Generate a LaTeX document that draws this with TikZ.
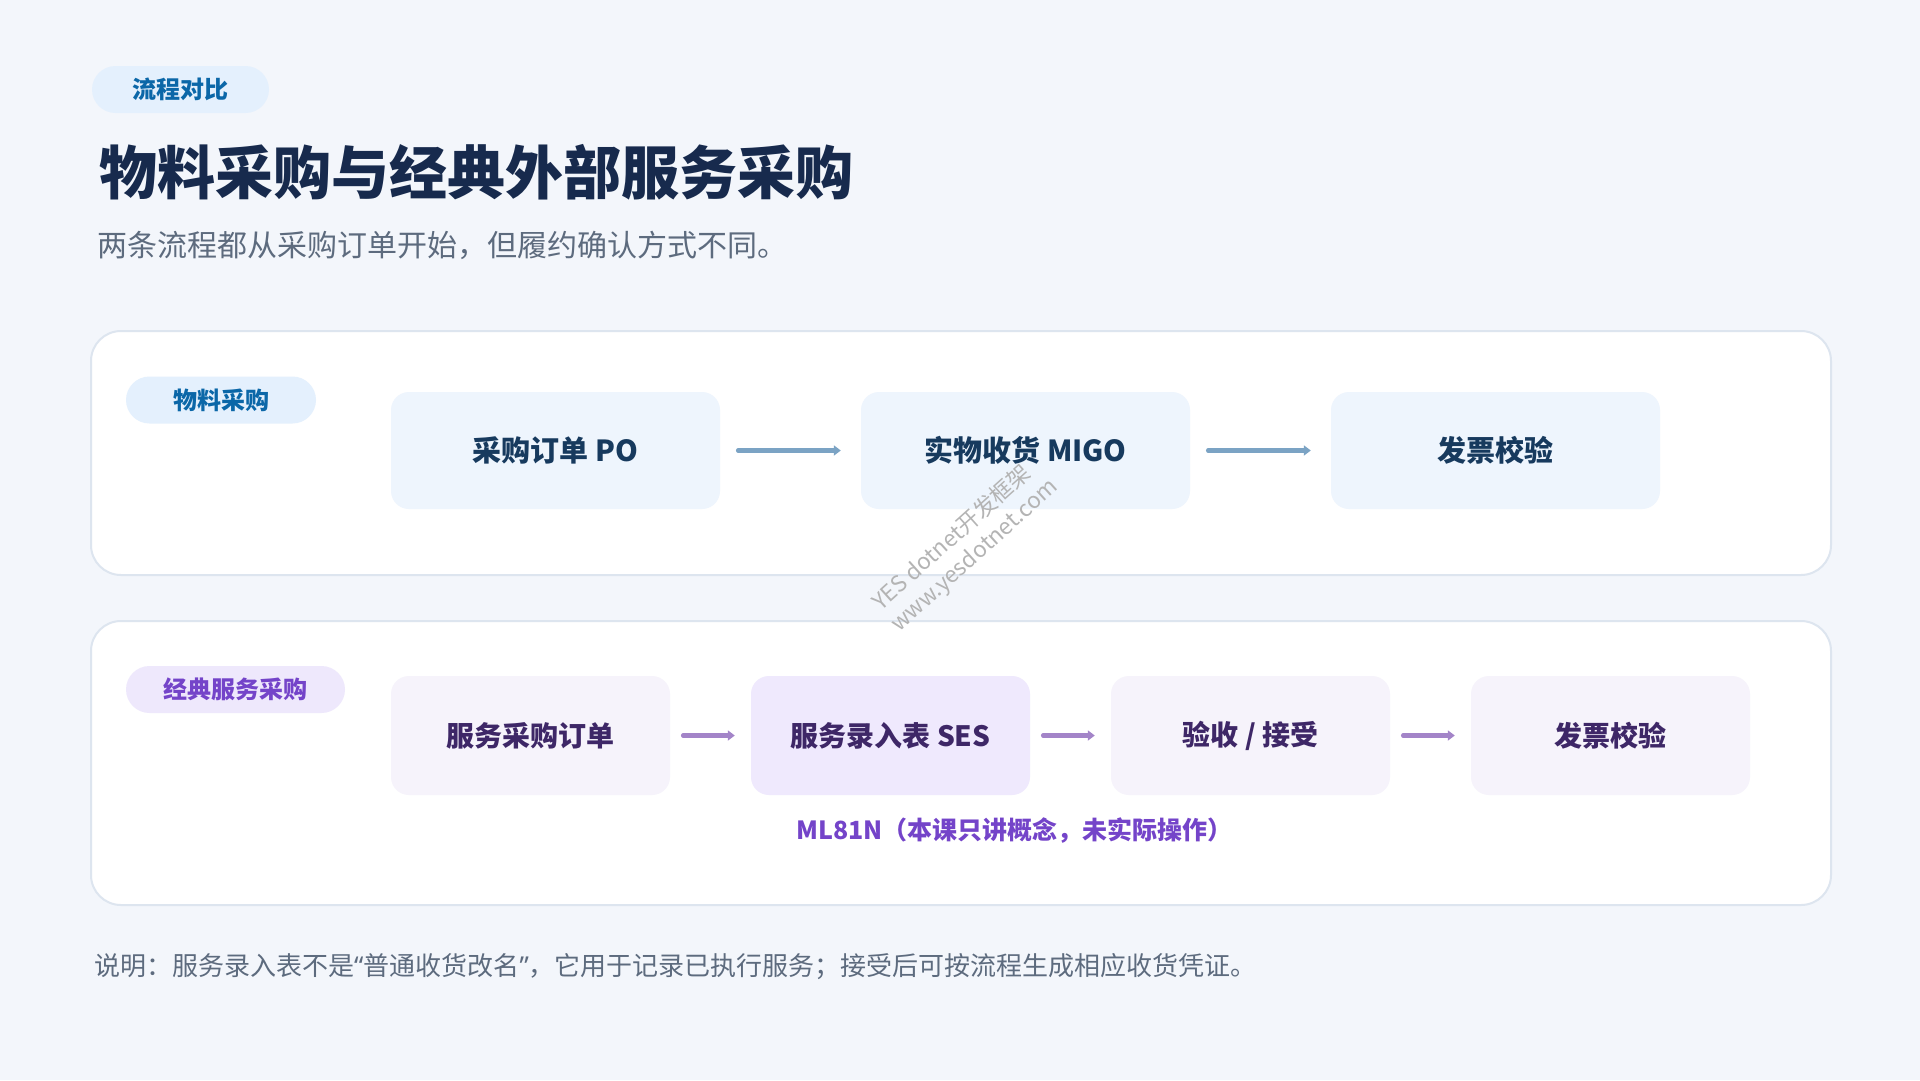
\documentclass[tikz,border=0pt]{standalone}
\usepackage{fontspec}
\setmainfont{Noto Sans CJK SC}
\newfontfamily\latinq{Noto Sans}
\usetikzlibrary{arrows.meta}
\definecolor{bg}{HTML}{F3F6FB}
\definecolor{panelborder}{HTML}{DDE5EF}
\definecolor{tagblue}{HTML}{E4F0FD}
\definecolor{tagbluetext}{HTML}{0B67A8}
\definecolor{tagpurple}{HTML}{EEE8FC}
\definecolor{tagpurpletext}{HTML}{7444C9}
\definecolor{titlecol}{HTML}{172A4D}
\definecolor{subcol}{HTML}{5D6B7E}
\definecolor{boxblue}{HTML}{EEF5FD}
\definecolor{boxbluetext}{HTML}{173A5E}
\definecolor{boxpurple}{HTML}{F6F3FB}
\definecolor{boxpurple2}{HTML}{EFE9FD}
\definecolor{boxpurpletext}{HTML}{3E2767}
\definecolor{arrblue}{HTML}{7BA3C4}
\definecolor{arrpurple}{HTML}{A384C8}
\definecolor{wm}{HTML}{B4B4B4}
\tikzset{
  panel/.style={draw=panelborder, line width=2pt, fill=white, rounded corners=30pt, minimum width=1740pt, inner sep=0pt},
  pill/.style={rounded corners=23.5pt, minimum height=47pt, inner sep=0pt, font=\fontsize{24}{28}\selectfont\bfseries},
  bluebox/.style={fill=boxblue, rounded corners=18pt, minimum width=329pt, minimum height=117pt, inner sep=0pt, text=boxbluetext, font=\fontsize{29}{34}\selectfont\bfseries},
  purplebox/.style={fill=boxpurple, rounded corners=18pt, minimum width=279pt, minimum height=119pt, inner sep=0pt, text=boxpurpletext, font=\fontsize{28}{33}\selectfont\bfseries},
  bluearrow/.style={draw=arrblue, line width=4.5pt, line cap=round, -{Triangle[length=7pt,width=10pt]}, shorten <=18pt, shorten >=20pt},
  purplearrow/.style={draw=arrpurple, line width=4.5pt, line cap=round, -{Triangle[length=7pt,width=10pt]}, shorten <=13pt, shorten >=16pt},
  wmtext/.style={text=wm, rotate=42, font=\fontsize{22.5}{26}\selectfont, inner sep=0pt}
}
\begin{document}
\begin{tikzpicture}[x=1pt,y=-1pt]
\fill[bg] (0,0) rectangle (1920,1080);
\useasboundingbox (0,0) rectangle (1920,1080);

% header
\node[pill, fill=tagblue, text=tagbluetext, minimum width=177pt] (tag) at (180.5,89.5) {流程对比};
\node[anchor=west, inner sep=0pt, text=titlecol, font=\fontsize{58}{66}\selectfont\bfseries] (title) at (99,172) {物料采购与经典外部服务采购};
\node[anchor=west, inner sep=0pt, text=subcol, font=\fontsize{30}{35}\selectfont] (subtitle) at (97,245) {两条流程都从采购订单开始，但履约确认方式不同。};

% panel 1
\node[panel, minimum height=244pt] (p1) at (961,453) {};
\node[pill, fill=tagblue, text=tagbluetext, minimum width=190pt] (t1) at (221,400) {物料采购};
\node[bluebox] (a1) at (555.5,450.5) {采购订单 PO};
\node[bluebox] (a2) at (1025.5,450.5) {实物收货 MIGO};
\node[bluebox] (a3) at (1495.5,450.5) {发票校验};
\draw[bluearrow] (a1) -- (a2);
\draw[bluearrow] (a2) -- (a3);

% panel 2
\node[panel, minimum height=284pt] (p2) at (961,763) {};
\node[pill, fill=tagpurple, text=tagpurpletext, minimum width=219pt] (t2) at (235.5,689.5) {经典服务采购};
\node[purplebox] (b1) at (530.5,735.5) {服务采购订单};
\node[purplebox, fill=boxpurple2] (b2) at (890.5,735.5) {服务录入表 SES};
\node[purplebox] (b3) at (1250.5,735.5) {验收 / 接受};
\node[purplebox] (b4) at (1610.5,735.5) {发票校验};
\draw[purplearrow] (b1) -- (b2);
\draw[purplearrow] (b2) -- (b3);
\draw[purplearrow] (b3) -- (b4);
\node[anchor=west, inner sep=0pt, text=tagpurpletext, font=\fontsize{25}{30}\selectfont\bfseries] (ml) at (796,831) {ML81N（本课只讲概念，未实际操作）};

% footer
\node[anchor=west, inner sep=0pt, text=subcol, font=\fontsize{26}{31}\selectfont] (note) at (94,967) {说明：服务录入表不是{\latinq “}普通收货改名{\latinq ”}，它用于记录已执行服务；接受后可按流程生成相应收货凭证。};

% watermark
\node[wmtext] (wm1) at (951,537) {YES dotnet开发框架};
\node[wmtext] (wm2) at (975,556) {www.yesdotnet.com};
\end{tikzpicture}
\end{document}
